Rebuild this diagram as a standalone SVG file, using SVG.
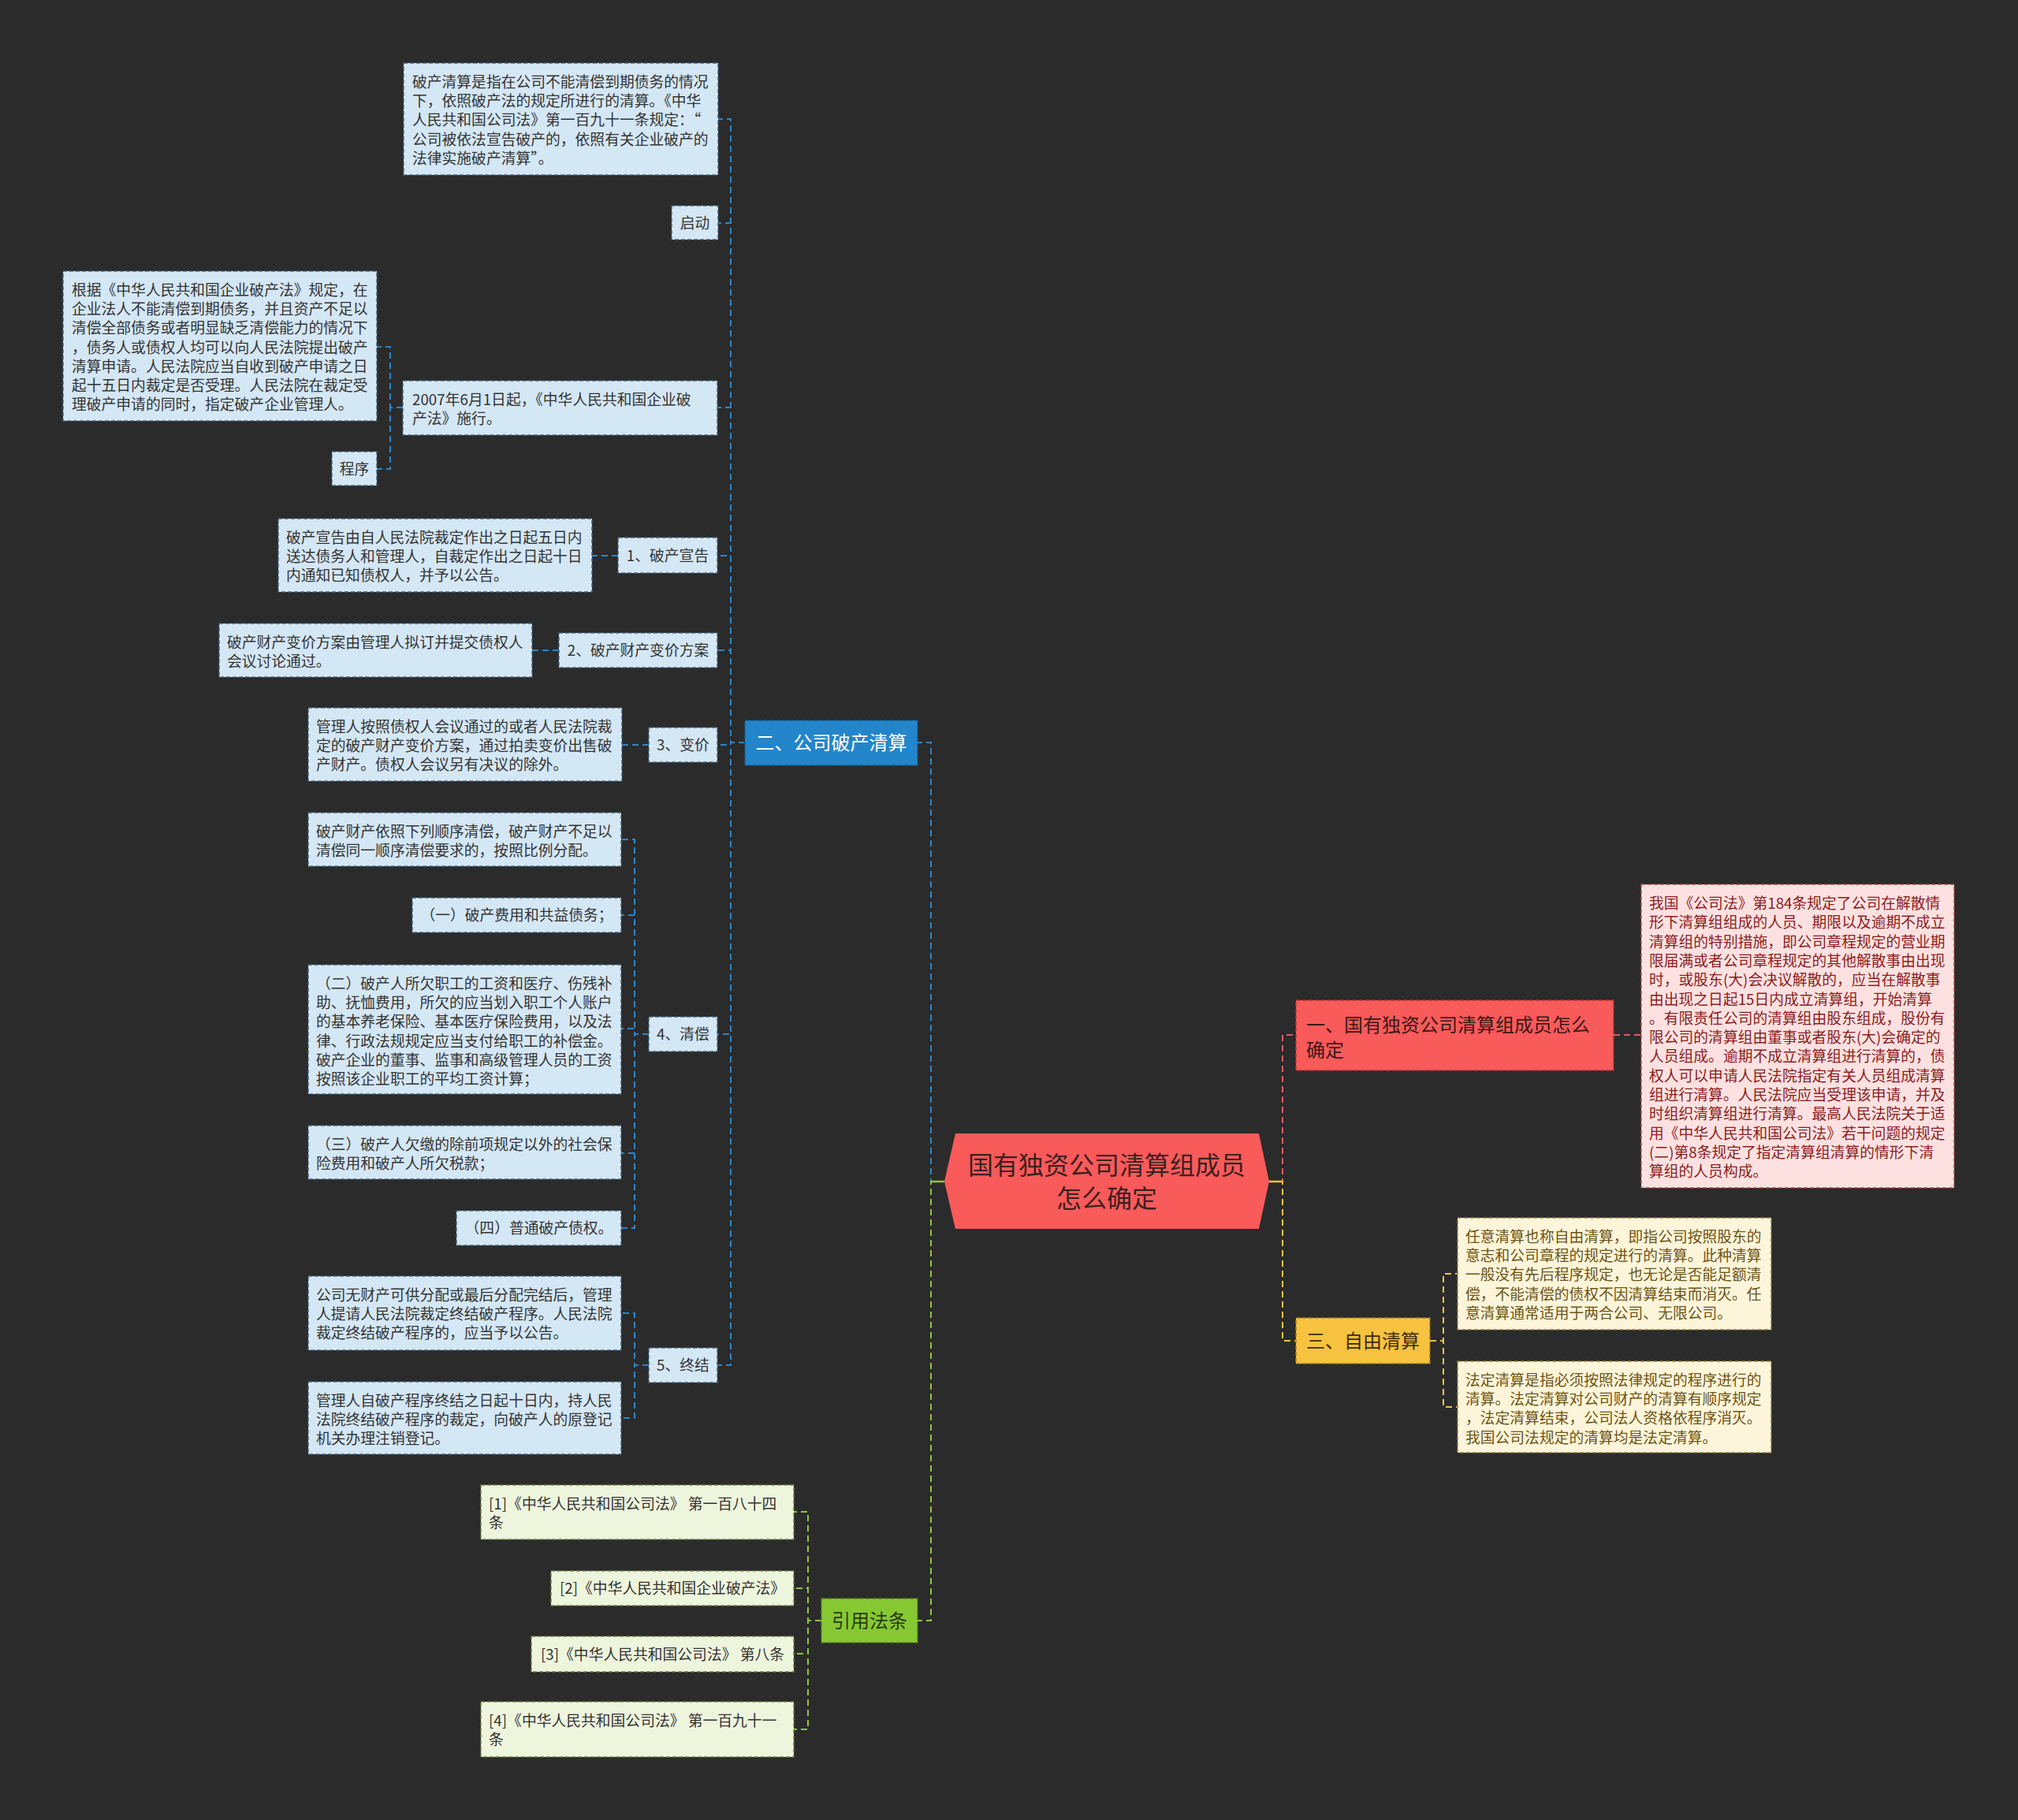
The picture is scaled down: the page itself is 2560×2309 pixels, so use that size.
<svg xmlns="http://www.w3.org/2000/svg" width="2560" height="2309" viewBox="0 0 2560 2309">
<style>
text{font-family:"Noto Sans CJK SC","Noto Sans",sans-serif;}
.lb rect{fill:#d4e7f5;stroke:#44617a;stroke-width:1.5;stroke-dasharray:5 3;}
.lb text{fill:#333;font-size:18.8px;}
.lp rect{fill:#fde1e1;stroke:#b04a4a;stroke-width:1.5;stroke-dasharray:5 3;}
.lp text{fill:#8c1c1c;font-size:18.8px;}
.ly rect{fill:#fdf5da;stroke:#8f7a32;stroke-width:1.5;stroke-dasharray:5 3;}
.ly text{fill:#6e5414;font-size:18.8px;}
.lg rect{fill:#eef5dd;stroke:#6f8040;stroke-width:1.5;stroke-dasharray:5 3;}
.lg text{fill:#333;font-size:18.8px;}
.br text{font-size:24px;}
.c{fill:none;stroke-width:2;stroke-dasharray:8 5;}
.cb{stroke:#2b86c8;}
.cr{stroke:#dd5d62;}
.cy{stroke:#f0c442;}
.cg{stroke:#8cc63f;}
.m{text-anchor:middle;}
</style>
<rect width="2560" height="2309" fill="#2b2b2b"/>

<g id="connectors">
  <!-- root to branches -->
  <path class="c cb" d="M1198 1499 H1181 V942 H1164"/>
  <path class="c cg" d="M1198 1499 H1181 V2056 H1164"/>
  <path class="c cr" d="M1610 1499 H1627 V1313 H1644"/>
  <path class="c cy" d="M1610 1499 H1627 V1701 H1644"/>
  <path d="M1181 1499 H1198" stroke="#8cc63f" stroke-width="2.5"/>
  <path d="M1610 1499 H1627" stroke="#f0c442" stroke-width="2.5"/>
  <!-- blue branch -->
  <path class="c cb" d="M945 942 H927 V151 H911"/>
  <path class="c cb" d="M945 942 H927 V283 H911"/>
  <path class="c cb" d="M945 942 H927 V517 H910"/>
  <path class="c cb" d="M945 942 H927 V705 H910"/>
  <path class="c cb" d="M945 942 H927 V825 H910"/>
  <path class="c cb" d="M945 942 H927 V945 H910"/>
  <path class="c cb" d="M945 942 H927 V1312 H910"/>
  <path class="c cb" d="M945 942 H927 V1732 H910"/>
  <path class="c cb" d="M511 517 H495 V440 H478"/>
  <path class="c cb" d="M511 517 H495 V595 H478"/>
  <path class="c cb" d="M784 705 H751"/>
  <path class="c cb" d="M709 825 H675"/>
  <path class="c cb" d="M823 945 H789"/>
  <path class="c cb" d="M823 1312 H805 V1065 H788"/>
  <path class="c cb" d="M823 1312 H805 V1161 H788"/>
  <path class="c cb" d="M823 1312 H805 V1305 H788"/>
  <path class="c cb" d="M823 1312 H805 V1463 H788"/>
  <path class="c cb" d="M823 1312 H805 V1558 H788"/>
  <path class="c cb" d="M823 1732 H805 V1666 H788"/>
  <path class="c cb" d="M823 1732 H805 V1799 H788"/>
  <!-- red branch -->
  <path class="c cr" d="M2047 1313 H2082"/>
  <!-- yellow branch -->
  <path class="c cy" d="M1814 1701 H1831 V1616 H1849"/>
  <path class="c cy" d="M1814 1701 H1831 V1785 H1849"/>
  <!-- green branch -->
  <path class="c cg" d="M1042 2056 H1025 V1918 H1007"/>
  <path class="c cg" d="M1042 2056 H1025 V2015 H1007"/>
  <path class="c cg" d="M1042 2056 H1025 V2098 H1007"/>
  <path class="c cg" d="M1042 2056 H1025 V2194 H1007"/>
</g>

<g id="root">
  <polygon points="1198,1499 1212,1438 1597,1438 1610,1499 1597,1559 1212,1559" fill="#f95a5a"/>
  <text class="m" x="1404" y="1490" font-size="32" fill="#3c2020">国有独资公司清算组成员</text>
  <text class="m" x="1404" y="1532" font-size="32" fill="#3c2020">怎么确定</text>
</g>

<g id="branch-2" class="br">
  <rect x="945" y="914" width="219" height="57" fill="#2385ca" stroke="#17598a" stroke-width="1.5" stroke-dasharray="5 3"/>
  <text class="m" x="1054.5" y="951" fill="#ffffff">二、公司破产清算</text>
</g>
<g id="branch-1" class="br">
  <rect x="1644" y="1269" width="403" height="89" fill="#f95a5a" stroke="#a83838" stroke-width="1.5" stroke-dasharray="5 3"/>
  <text x="1657" y="1309" fill="#3b1818">一、国有独资公司清算组成员怎么</text>
  <text x="1657" y="1341" fill="#3b1818">确定</text>
</g>
<g id="branch-3" class="br">
  <rect x="1644" y="1672" width="170" height="58" fill="#f7c23f" stroke="#9a7a20" stroke-width="1.5" stroke-dasharray="5 3"/>
  <text class="m" x="1729" y="1710" fill="#3a2c00">三、自由清算</text>
</g>
<g id="branch-law" class="br">
  <rect x="1042" y="2028" width="122" height="56" fill="#86c832" stroke="#557f1c" stroke-width="1.5" stroke-dasharray="5 3"/>
  <text class="m" x="1103" y="2065" fill="#263a0a">引用法条</text>
</g>

<g id="n-def" class="lb">
  <rect x="512" y="80" width="399" height="142"/>
  <text x="523" y="111">破产清算是指在公司不能清偿到期债务的情况</text>
  <text x="523" y="135.2">下，依照破产法的规定所进行的清算。《中华</text>
  <text x="523" y="159.4">人民共和国公司法》第一百九十一条规定：“</text>
  <text x="523" y="183.6">公司被依法宣告破产的，依照有关企业破产的</text>
  <text x="523" y="207.8">法律实施破产清算”。</text>
</g>
<g id="n-start" class="lb">
  <rect x="852" y="261" width="59" height="43"/>
  <text class="m" x="881.5" y="290">启动</text>
</g>
<g id="n-2007" class="lb">
  <rect x="511" y="483" width="399" height="69"/>
  <text x="523" y="514">2007年6月1日起，《中华人民共和国企业破</text>
  <text x="523" y="538.2">产法》施行。</text>
</g>
<g id="n-law-desc" class="lb">
  <rect x="80" y="344" width="398" height="190"/>
  <text x="91" y="375">根据《中华人民共和国企业破产法》规定，在</text>
  <text x="91" y="399.2">企业法人不能清偿到期债务，并且资产不足以</text>
  <text x="91" y="423.4">清偿全部债务或者明显缺乏清偿能力的情况下</text>
  <text x="91" y="447.6">，债务人或债权人均可以向人民法院提出破产</text>
  <text x="91" y="471.8">清算申请。人民法院应当自收到破产申请之日</text>
  <text x="91" y="496">起十五日内裁定是否受理。人民法院在裁定受</text>
  <text x="91" y="520.2">理破产申请的同时，指定破产企业管理人。</text>
</g>
<g id="n-proc" class="lb">
  <rect x="421" y="573" width="57" height="43"/>
  <text class="m" x="449.5" y="601.5">程序</text>
</g>
<g id="n-s1" class="lb">
  <rect x="784" y="682" width="126" height="45"/>
  <text class="m" x="847" y="711.5">1、破产宣告</text>
</g>
<g id="n-s1c" class="lb">
  <rect x="353" y="658" width="398" height="93"/>
  <text x="363" y="689">破产宣告由自人民法院裁定作出之日起五日内</text>
  <text x="363" y="713.2">送达债务人和管理人，自裁定作出之日起十日</text>
  <text x="363" y="737.4">内通知已知债权人，并予以公告。</text>
</g>
<g id="n-s2" class="lb">
  <rect x="709" y="803" width="201" height="44"/>
  <text class="m" x="809.5" y="832">2、破产财产变价方案</text>
</g>
<g id="n-s2c" class="lb">
  <rect x="278" y="791" width="397" height="68"/>
  <text x="288" y="822">破产财产变价方案由管理人拟订并提交债权人</text>
  <text x="288" y="846.2">会议讨论通过。</text>
</g>
<g id="n-s3" class="lb">
  <rect x="823" y="923" width="87" height="44"/>
  <text class="m" x="866.5" y="952">3、变价</text>
</g>
<g id="n-s3c" class="lb">
  <rect x="391" y="898" width="398" height="93"/>
  <text x="401" y="929">管理人按照债权人会议通过的或者人民法院裁</text>
  <text x="401" y="953.2">定的破产财产变价方案，通过拍卖变价出售破</text>
  <text x="401" y="977.4">产财产。债权人会议另有决议的除外。</text>
</g>
<g id="n-s4" class="lb">
  <rect x="823" y="1290" width="87" height="44"/>
  <text class="m" x="866.5" y="1319">4、清偿</text>
</g>
<g id="n-s4a" class="lb">
  <rect x="391" y="1031" width="397" height="68"/>
  <text x="401" y="1062">破产财产依照下列顺序清偿，破产财产不足以</text>
  <text x="401" y="1086.2">清偿同一顺序清偿要求的，按照比例分配。</text>
</g>
<g id="n-s4b" class="lb">
  <rect x="523" y="1139" width="265" height="44"/>
  <text class="m" x="655.5" y="1168">（一）破产费用和共益债务；</text>
</g>
<g id="n-s4c" class="lb">
  <rect x="391" y="1224" width="397" height="164"/>
  <text x="401" y="1255">（二）破产人所欠职工的工资和医疗、伤残补</text>
  <text x="401" y="1279.2">助、抚恤费用，所欠的应当划入职工个人账户</text>
  <text x="401" y="1303.4">的基本养老保险、基本医疗保险费用，以及法</text>
  <text x="401" y="1327.6">律、行政法规规定应当支付给职工的补偿金。</text>
  <text x="401" y="1351.8">破产企业的董事、监事和高级管理人员的工资</text>
  <text x="401" y="1376">按照该企业职工的平均工资计算；</text>
</g>
<g id="n-s4d" class="lb">
  <rect x="391" y="1428" width="397" height="68"/>
  <text x="401" y="1459">（三）破产人欠缴的除前项规定以外的社会保</text>
  <text x="401" y="1483.2">险费用和破产人所欠税款；</text>
</g>
<g id="n-s4e" class="lb">
  <rect x="579" y="1536" width="209" height="44"/>
  <text class="m" x="683.5" y="1565">（四）普通破产债权。</text>
</g>
<g id="n-s5" class="lb">
  <rect x="823" y="1710" width="87" height="44"/>
  <text class="m" x="866.5" y="1739">5、终结</text>
</g>
<g id="n-s5a" class="lb">
  <rect x="391" y="1619" width="397" height="94"/>
  <text x="401" y="1650">公司无财产可供分配或最后分配完结后，管理</text>
  <text x="401" y="1674.2">人提请人民法院裁定终结破产程序。人民法院</text>
  <text x="401" y="1698.4">裁定终结破产程序的，应当予以公告。</text>
</g>
<g id="n-s5b" class="lb">
  <rect x="391" y="1753" width="397" height="92"/>
  <text x="401" y="1784">管理人自破产程序终结之日起十日内，持人民</text>
  <text x="401" y="1808.2">法院终结破产程序的裁定，向破产人的原登记</text>
  <text x="401" y="1832.4">机关办理注销登记。</text>
</g>

<g id="n-red" class="lp">
  <rect x="2082" y="1122" width="397" height="385"/>
  <text x="2092" y="1153">我国《公司法》第184条规定了公司在解散情</text>
  <text x="2092" y="1177.3">形下清算组组成的人员、期限以及逾期不成立</text>
  <text x="2092" y="1201.6">清算组的特别措施，即公司章程规定的营业期</text>
  <text x="2092" y="1225.9">限届满或者公司章程规定的其他解散事由出现</text>
  <text x="2092" y="1250.2">时，或股东(大)会决议解散的，应当在解散事</text>
  <text x="2092" y="1274.5">由出现之日起15日内成立清算组，开始清算</text>
  <text x="2092" y="1298.8">。有限责任公司的清算组由股东组成，股份有</text>
  <text x="2092" y="1323.1">限公司的清算组由董事或者股东(大)会确定的</text>
  <text x="2092" y="1347.4">人员组成。逾期不成立清算组进行清算的，债</text>
  <text x="2092" y="1371.7">权人可以申请人民法院指定有关人员组成清算</text>
  <text x="2092" y="1396">组进行清算。人民法院应当受理该申请，并及</text>
  <text x="2092" y="1420.3">时组织清算组进行清算。最高人民法院关于适</text>
  <text x="2092" y="1444.6">用《中华人民共和国公司法》若干问题的规定</text>
  <text x="2092" y="1468.9">(二)第8条规定了指定清算组清算的情形下清</text>
  <text x="2092" y="1493.2">算组的人员构成。</text>
</g>

<g id="n-yel-a" class="ly">
  <rect x="1849" y="1545" width="398" height="142"/>
  <text x="1859" y="1576">任意清算也称自由清算，即指公司按照股东的</text>
  <text x="1859" y="1600.2">意志和公司章程的规定进行的清算。此种清算</text>
  <text x="1859" y="1624.4">一般没有先后程序规定，也无论是否能足额清</text>
  <text x="1859" y="1648.6">偿，不能清偿的债权不因清算结束而消灭。任</text>
  <text x="1859" y="1672.8">意清算通常适用于两合公司、无限公司。</text>
</g>
<g id="n-yel-b" class="ly">
  <rect x="1849" y="1727" width="398" height="116"/>
  <text x="1859" y="1758">法定清算是指必须按照法律规定的程序进行的</text>
  <text x="1859" y="1782.2">清算。法定清算对公司财产的清算有顺序规定</text>
  <text x="1859" y="1806.4">，法定清算结束，公司法人资格依程序消灭。</text>
  <text x="1859" y="1830.6">我国公司法规定的清算均是法定清算。</text>
</g>

<g id="n-law1" class="lg">
  <rect x="610" y="1884" width="397" height="69"/>
  <text x="620" y="1915">[1]《中华人民共和国公司法》 第一百八十四</text>
  <text x="620" y="1939.2">条</text>
</g>
<g id="n-law2" class="lg">
  <rect x="699" y="1993" width="308" height="44"/>
  <text class="m" x="853" y="2022">[2]《中华人民共和国企业破产法》</text>
</g>
<g id="n-law3" class="lg">
  <rect x="674" y="2076" width="333" height="45"/>
  <text class="m" x="840.5" y="2105.5">[3]《中华人民共和国公司法》 第八条</text>
</g>
<g id="n-law4" class="lg">
  <rect x="610" y="2159" width="397" height="70"/>
  <text x="620" y="2190">[4]《中华人民共和国公司法》 第一百九十一</text>
  <text x="620" y="2214.2">条</text>
</g>
</svg>
